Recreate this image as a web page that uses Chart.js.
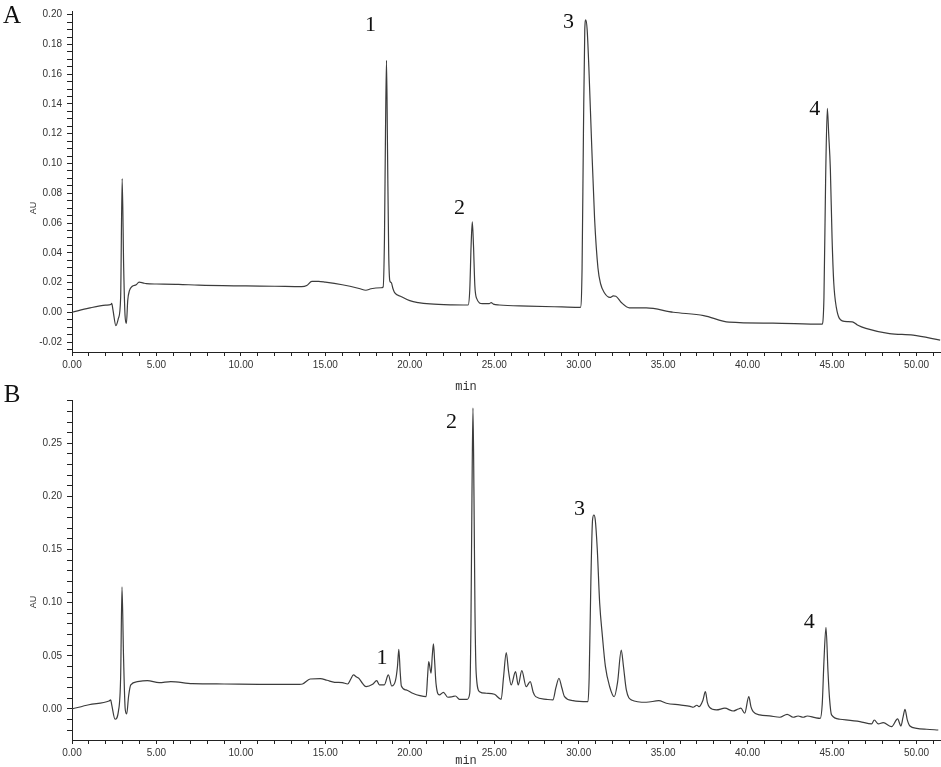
<!DOCTYPE html>
<html>
<head>
<meta charset="utf-8">
<script src="https://cdn.jsdelivr.net/npm/chart.js@4.4.1/dist/chart.umd.min.js"></script>
<style>
    body { margin: 0; background: #fff; }
    #wrap { position: relative; width: 941px; height: 767px; overflow: hidden; }
    canvas { position: absolute; left: 0; }
    .lbl { position: absolute; transform: translate(-50%, -50%); white-space: nowrap; line-height: 1; }
    .panel { font: 25px 'Liberation Serif', serif; color: #111; }
    .au { font: 9px 'Liberation Sans', Arial, sans-serif; color: #333; transform: translate(-50%, -50%) rotate(-90deg); }
    .min { font: 12px 'Liberation Mono', monospace; color: #333; }
</style>
</head>
<body>
<div id="wrap">
    <canvas id="chartA" width="941" height="380" style="top:0"></canvas>
    <canvas id="chartB" width="941" height="387" style="top:380px"></canvas>
    <div class="lbl panel" style="left:12px;top:15px">A</div>
    <div class="lbl panel" style="left:12px;top:394px">B</div>
    <div class="lbl au" style="left:33px;top:208px">AU</div>
    <div class="lbl au" style="left:33px;top:602px">AU</div>
    <div class="lbl min" style="left:466px;top:387px">min</div>
    <div class="lbl min" style="left:466px;top:761px">min</div>
</div>
<script>
// Panel A - standard mixture
const timeA = [0.0, 1.0, 2.0, 2.3, 2.35, 2.42, 2.6, 2.75, 2.88, 2.97, 3.06, 3.14, 3.22, 3.30, 3.40, 3.57, 3.80, 3.97, 4.2, 4.4,
    5.0, 6.3, 7.5, 10.3, 12.0, 13.6, 13.9, 14.2, 14.6, 15.0, 16.0, 17.0, 17.4, 17.7, 18.3, 18.42, 18.5, 18.56, 18.62, 18.68,
    18.75, 18.82, 18.9, 19.0, 19.1, 19.5, 20.0, 20.5, 21.2, 22.5, 23.45, 23.55, 23.63, 23.7, 23.77, 23.85, 23.95, 24.3, 24.7, 24.82,
    24.95, 25.3, 27.0, 29.0, 30.1, 30.2, 30.28, 30.36, 30.42, 30.5, 30.6, 30.75, 30.94, 31.14, 31.3, 31.5, 31.85, 32.05, 32.2, 32.52,
    33.0, 34.0, 35.6, 37.4, 38.9, 41.5, 44.4, 44.52, 44.62, 44.72, 44.8, 44.9, 45.0, 45.1, 45.25, 45.6, 45.9, 46.2, 46.5, 47.0,
    48.4, 49.8, 51.4];
const auA = [0.000, 0.0028, 0.0048, 0.0052, 0.0060, 0.0020, -0.0090, -0.0040, 0.0100, 0.0898, 0.0300, -0.0020, -0.0075, 0.0080, 0.0145, 0.0175, 0.0185, 0.0203, 0.0198, 0.0192,
    0.0190, 0.0188, 0.0182, 0.0177, 0.0175, 0.0172, 0.0180, 0.0208, 0.0208, 0.0203, 0.0185, 0.0160, 0.0148, 0.0158, 0.0165, 0.0170, 0.0500, 0.1200, 0.1694, 0.1100,
    0.0400, 0.0210, 0.0200, 0.0160, 0.0132, 0.0105, 0.0078, 0.0065, 0.0056, 0.0050, 0.0049, 0.0150, 0.0450, 0.0607, 0.0450, 0.0180, 0.0095, 0.0058, 0.0058, 0.0065,
    0.0055, 0.0049, 0.0042, 0.0036, 0.0033, 0.0300, 0.1200, 0.1900, 0.1966, 0.1900, 0.1650, 0.1180, 0.0630, 0.0298, 0.0190, 0.0135, 0.0100, 0.0110, 0.0108, 0.0066,
    0.0030, 0.0029, 0.0000, -0.0022, -0.0066, -0.0073, -0.0080, 0.0100, 0.0900, 0.1370, 0.1200, 0.0960, 0.0500, 0.0200, 0.0035, -0.0058, -0.0063, -0.0064, -0.0085, -0.0108,
    -0.0143, -0.0154, -0.0187];

// Panel B - sample
const timeB = [0.0, 1.0, 2.19, 2.29, 2.35, 2.55, 2.75, 2.88, 2.96, 3.05, 3.15, 3.24, 3.35, 3.48, 3.87, 4.46, 5.16, 5.85, 7.13, 9.0,
    11.08, 13.46, 13.65, 14.1, 14.7, 15.1, 15.55, 16.0, 16.32, 16.5, 16.66, 16.85, 17.0, 17.2, 17.41, 17.8, 18.04, 18.2, 18.49, 18.73,
    18.93, 19.15, 19.27, 19.35, 19.43, 19.5, 19.78, 20.17, 20.6, 20.97, 21.05, 21.12, 21.26, 21.33, 21.4, 21.47, 21.55, 21.75, 21.99, 22.25,
    22.5, 22.7, 22.94, 23.4, 23.55, 23.62, 23.68, 23.74, 23.8, 23.86, 23.93, 24.13, 24.52, 25.01, 25.41, 25.55, 25.71, 25.85, 26.0, 26.26,
    26.42, 26.63, 26.89, 27.13, 27.3, 27.45, 28.08, 28.47, 28.65, 28.83, 29.0, 29.16, 29.66, 30.55, 30.62, 30.72, 30.82, 30.9, 30.98, 31.1,
    31.24, 31.4, 31.58, 31.83, 32.1, 32.3, 32.52, 32.65, 32.82, 33.12, 34.0, 34.74, 35.19, 35.98, 36.6, 36.77, 37.0, 37.12, 37.35, 37.5,
    37.62, 37.75, 38.15, 38.65, 39.14, 39.45, 39.6, 39.83, 40.07, 40.2, 40.33, 40.72, 41.3, 41.91, 42.34, 42.7, 42.99, 43.29, 43.53, 44.0,
    44.3, 44.42, 44.52, 44.64, 44.76, 44.85, 44.97, 45.47, 46.65, 47.34, 47.5, 47.74, 48.03, 48.53, 48.88, 49.08, 49.2, 49.32, 49.45, 49.61,
    50.01, 50.6, 51.29];
const auB = [0.000, 0.0040, 0.0075, 0.0085, 0.0040, -0.0097, -0.0020, 0.0300, 0.1148, 0.0500, 0.0000, -0.0047, 0.0120, 0.0226, 0.0257, 0.0266, 0.0247, 0.0257, 0.0238, 0.0235,
    0.0232, 0.0232, 0.0235, 0.0282, 0.0286, 0.0270, 0.0251, 0.0248, 0.0235, 0.0280, 0.0320, 0.0300, 0.0285, 0.0240, 0.0210, 0.0232, 0.0266, 0.0226, 0.0226, 0.0320,
    0.0216, 0.0266, 0.0400, 0.0562, 0.0350, 0.0216, 0.0179, 0.0148, 0.0125, 0.0116, 0.0300, 0.0445, 0.0336, 0.0500, 0.0612, 0.0450, 0.0242, 0.0132, 0.0157, 0.0110,
    0.0115, 0.0122, 0.0091, 0.0091, 0.0150, 0.0800, 0.2000, 0.2832, 0.2000, 0.0900, 0.0336, 0.0163, 0.0148, 0.0138, 0.0091, 0.0300, 0.0530, 0.0350, 0.0226, 0.0351,
    0.0226, 0.0360, 0.0210, 0.0257, 0.0160, 0.0116, 0.0091, 0.0085, 0.0200, 0.0289, 0.0200, 0.0116, 0.0078, 0.0069, 0.0300, 0.1200, 0.1780, 0.1825, 0.1780, 0.1500,
    0.1000, 0.0690, 0.0400, 0.0211, 0.0115, 0.0250, 0.0555, 0.0400, 0.0179, 0.0085, 0.0063, 0.0078, 0.0054, 0.0038, 0.0025, 0.0016, 0.0035, 0.0022, 0.0080, 0.0163,
    0.0060, 0.0015, -0.0009, 0.0007, -0.0019, 0.0000, 0.0007, -0.0040, 0.0116, 0.0020, -0.0025, -0.0056, -0.0065, -0.0078, -0.0050, -0.0078, -0.0066, -0.0078, -0.0066, -0.0082,
    -0.0088, 0.0050, 0.0450, 0.0769, 0.0350, 0.0100, -0.0056, -0.0097, -0.0119, -0.0141, -0.0104, -0.0141, -0.0129, -0.0166, -0.0094, -0.0160, -0.0080, -0.0003, -0.0100, -0.0160,
    -0.0182, -0.0191, -0.0198];

// Peak numbers (placed in data units, centre of the digit)
const peakTextA = ['1', '2', '3', '4'];
const peakTimeA = [17.67, 22.94, 29.4, 43.98];
const peakAuA = [0.1935, 0.0707, 0.1955, 0.1370];
const peakTextB = ['1', '2', '3', '4'];
const peakTimeB = [18.36, 22.47, 30.05, 43.65];
const peakAuB = [0.0492, 0.271, 0.1891, 0.0831];

// Axis ticks
const xMajorTicks = [0, 5, 10, 15, 20, 25, 30, 35, 40, 45, 50];
const xMinorStep = 1;
const xMax = 51.45;
const yMajorTicksA = [-0.02, 0.00, 0.02, 0.04, 0.06, 0.08, 0.10, 0.12, 0.14, 0.16, 0.18, 0.20];
const yMinorStepA = 0.005;
const yRangeA = [-0.0267, 0.2025];
const yMajorTicksB = [0.00, 0.05, 0.10, 0.15, 0.20, 0.25];
const yMinorStepB = 0.01;
const yRangeB = [-0.0292, 0.2907];

const axisColor = '#222';
const traceColor = '#3c3c3c';
const tickFont = { family: "'Liberation Sans', Arial, sans-serif", size: 10 };

function stepTicks(min, max, step) {
    const out = [];
    const start = Math.ceil(min / step - 1e-9);
    const end = Math.floor(max / step + 1e-9);
    for (let i = start; i <= end; i++) {
        out.push({ value: Math.round(i * step * 10000) / 10000 });
    }
    return out;
}

const peakLabelPlugin = {
    id: 'peakLabels',
    afterDatasetsDraw(chart, args, opts) {
        const { ctx, scales } = chart;
        ctx.save();
        ctx.fillStyle = '#111';
        ctx.font = "22px 'Liberation Serif', serif";
        ctx.textAlign = 'center';
        ctx.textBaseline = 'alphabetic';
        opts.text.forEach((t, i) => {
            // digits are ~15px tall, so drop the baseline half of that below the centre
            ctx.fillText(t, scales.x.getPixelForValue(opts.time[i]), scales.y.getPixelForValue(opts.au[i]) + 7);
        });
        ctx.restore();
    }
};

function makeChart(id, times, values, yRange, yMajor, yStep, padTop, xHeight, peaks) {
    const points = times.map((t, i) => ({ x: t, y: values[i] }));
    return new Chart(document.getElementById(id), {
        type: 'line',
        data: {
            datasets: [{
                data: points,
                borderColor: traceColor,
                borderWidth: 1.2,
                pointRadius: 0,
                fill: false,
                cubicInterpolationMode: 'monotone'
            }]
        },
        options: {
            responsive: false,
            animation: false,
            devicePixelRatio: 1,
            layout: { padding: { top: padTop, left: 0, right: 0, bottom: 0 } },
            plugins: {
                legend: { display: false },
                tooltip: { enabled: false },
                peakLabels: peaks
            },
            scales: {
                x: {
                    type: 'linear',
                    min: 0,
                    max: xMax,
                    bounds: 'data',
                    afterBuildTicks: scale => { scale.ticks = stepTicks(0, xMax, xMinorStep); },
                    afterFit: scale => { scale.height = xHeight; },
                    grid: { drawOnChartArea: false, drawTicks: true, tickLength: 4, color: axisColor },
                    border: { display: true, color: axisColor, width: 1 },
                    ticks: {
                        autoSkip: false,
                        maxRotation: 0,
                        padding: 3,
                        color: '#333',
                        font: tickFont,
                        callback: v => xMajorTicks.some(m => Math.abs(m - v) < 1e-6) ? v.toFixed(2) : ''
                    }
                },
                y: {
                    type: 'linear',
                    min: yRange[0],
                    max: yRange[1],
                    bounds: 'data',
                    afterBuildTicks: scale => { scale.ticks = stepTicks(yRange[0], yRange[1], yStep); },
                    afterFit: scale => { scale.width = 72; },
                    grid: { drawOnChartArea: false, drawTicks: true, tickLength: 5, color: axisColor },
                    border: { display: true, color: axisColor, width: 1 },
                    ticks: {
                        autoSkip: false,
                        padding: 5,
                        color: '#333',
                        font: tickFont,
                        callback: v => yMajor.some(m => Math.abs(m - v) < 1e-6) ? v.toFixed(2) : ''
                    }
                }
            }
        },
        plugins: [peakLabelPlugin]
    });
}

makeChart('chartA', timeA, auA, yRangeA, yMajorTicksA, yMinorStepA, 6, 28,
    { text: peakTextA, time: peakTimeA, au: peakAuA });
makeChart('chartB', timeB, auB, yRangeB, yMajorTicksB, yMinorStepB, 20, 27,
    { text: peakTextB, time: peakTimeB, au: peakAuB });
</script>
</body>
</html>
